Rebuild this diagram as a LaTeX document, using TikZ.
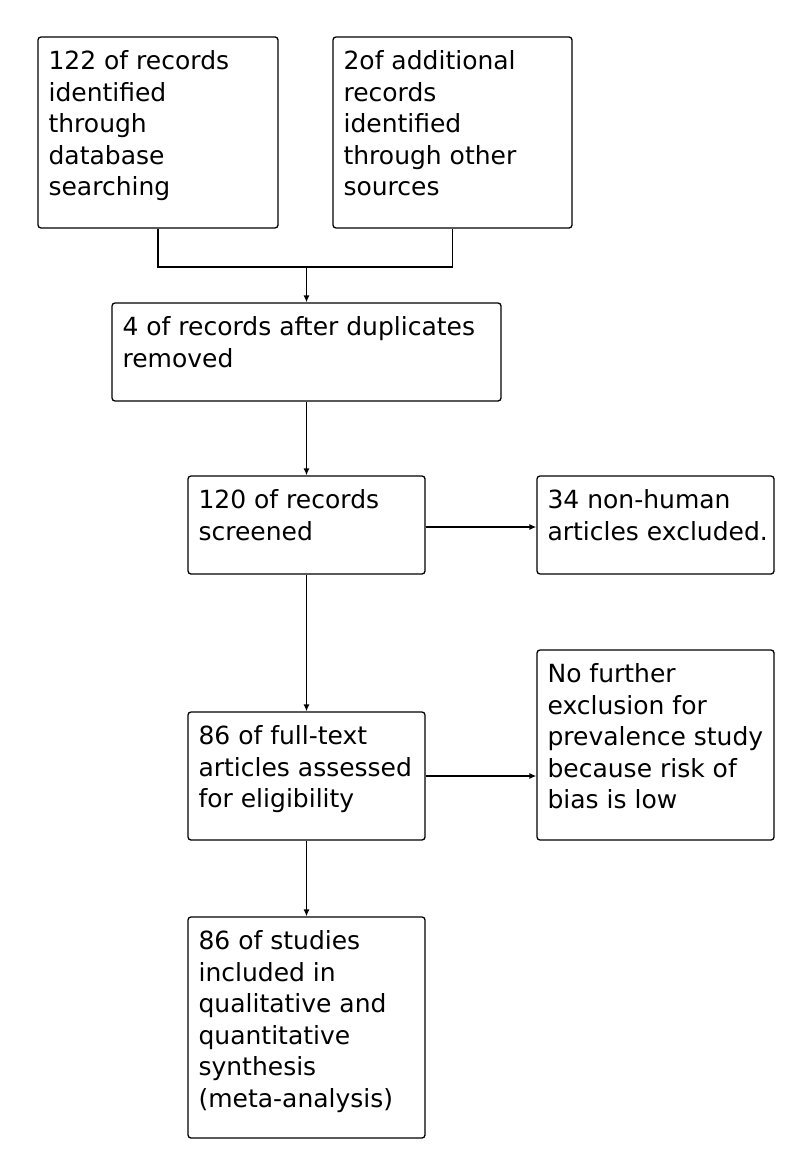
\documentclass[tikz,border=0pt]{standalone}
\usepackage{fontspec}
\setmainfont{DejaVu Sans}
\usetikzlibrary{arrows.meta}
\tikzset{
  box/.style={draw, line width=1.3pt, rounded corners=3pt, inner sep=0pt},
  boxtext/.style={anchor=north west, align=left, inner sep=0pt,
    font=\fontsize{25pt}{31.6pt}\selectfont},
  arr/.style={line width=1.3pt, -{Latex[length=7pt,width=6pt]}}
}
\newcommand{\flowbox}[6]{% name, left, top, right, bottom, text
  \node[box, minimum width={#4-#2}, minimum height={#5-#3}] (#1) at ({(#2+#4)/2},{(#3+#5)/2}) {};
  \node[boxtext] (#1text) at ([shift={(11pt,-14pt)}]#1.north west) {#6};
}
\begin{document}
\begin{tikzpicture}[x=1pt,y=-1pt]
\useasboundingbox (0,0) rectangle (798,1169);
% boxes
\flowbox{idb}{38}{37}{278}{228}{122 of records\\identified\\through\\database\\searching}
\flowbox{other}{333}{37}{572}{228}{2of additional\\records\\identified\\through other\\sources}
\flowbox{dup}{112}{303}{501}{401}{4 of records after duplicates\\removed}
\flowbox{screen}{188}{476}{425}{574}{120 of records\\screened}
\flowbox{nonhum}{537}{476}{774}{574}{34 non-human\\articles excluded.}
\flowbox{full}{188}{712}{425}{840}{86 of full-text\\articles assessed\\for eligibility}
\flowbox{nofurther}{537}{650}{774}{840}{No further\\exclusion for\\prevalence study\\because risk of\\bias is low}
\flowbox{incl}{188}{917}{425}{1138}{86 of studies\\included in\\qualitative and\\quantitative\\synthesis\\(meta-analysis)}
% connectors
\coordinate (join) at (306.5,267);
\draw[line width=1.3pt] (idb.south) |- (join) -| (other.south);
\draw[arr] (join) -- (dup.north -| join);
\draw[arr] (dup.south -| screen.north) -- (screen.north);
\draw[arr] ([yshift=-2pt]screen.east) -- ([yshift=-2pt]nonhum.west);
\draw[arr] (screen.south) -- (full.north);
\draw[arr] (full.east) -- (full.east -| nofurther.west);
\draw[arr] (full.south) -- (incl.north);
\end{tikzpicture}
\end{document}
